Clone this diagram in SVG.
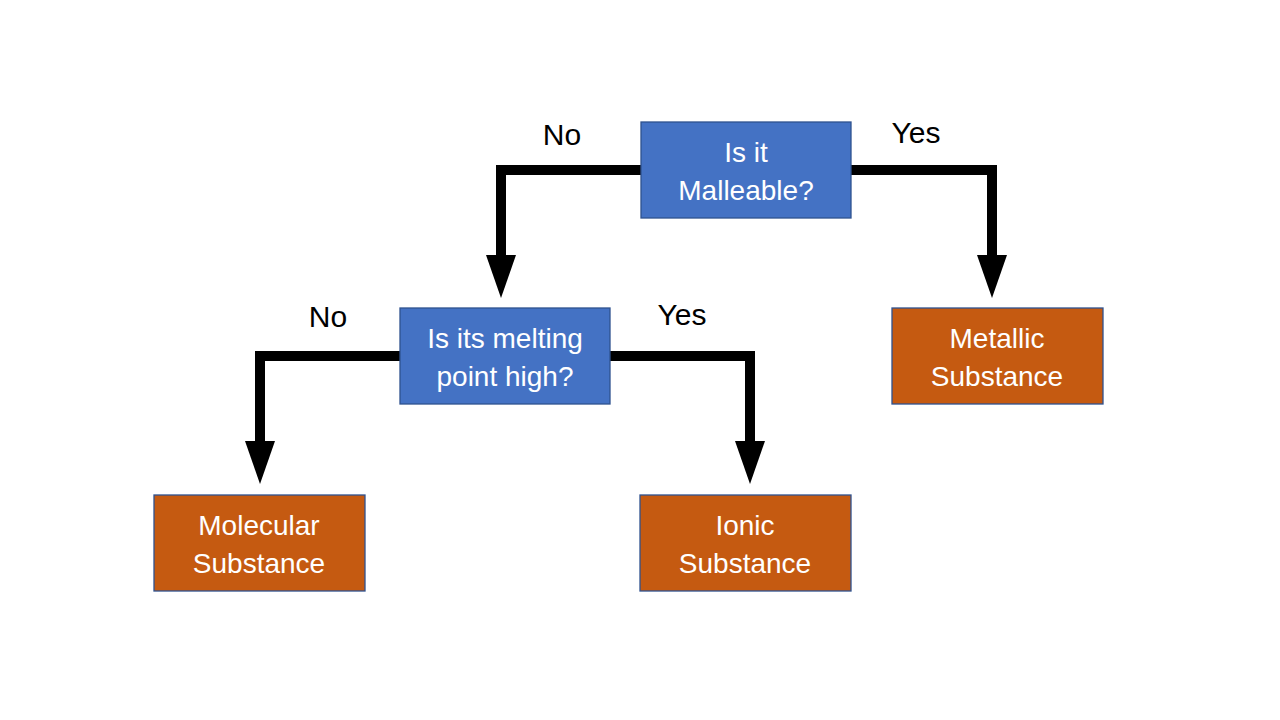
<svg xmlns="http://www.w3.org/2000/svg" width="1280" height="720" viewBox="0 0 1280 720">
<style>
.q{fill:#4472C4;stroke:#2F528F;stroke-width:1.3}
.r{fill:#C55A11;stroke:#2F528F;stroke-width:1.3}
.t{font-family:"Liberation Sans",Arial,sans-serif;font-size:28px;fill:#FFFFFF;text-anchor:middle}
.l{font-family:"Liberation Sans",Arial,sans-serif;font-size:30px;fill:#000000;text-anchor:middle}
.c{fill:none;stroke:#000000;stroke-width:10;stroke-linejoin:miter}
</style>
<defs>
<marker id="ah" markerUnits="userSpaceOnUse" viewBox="0 0 43 30" refX="1" refY="15" markerWidth="43" markerHeight="30" orient="auto">
<path d="M0,0 L43,15 L0,30 z" fill="#000000"/>
</marker>
</defs>
<rect width="1280" height="720" fill="#FFFFFF"/>
<g id="connectors">
<path class="c" d="M641,170 H501 V256" marker-end="url(#ah)"/>
<path class="c" d="M851,170 H992 V256" marker-end="url(#ah)"/>
<path class="c" d="M400,356 H260 V442" marker-end="url(#ah)"/>
<path class="c" d="M610,356 H750 V442" marker-end="url(#ah)"/>
<text class="l" x="562" y="145">No</text>
<text class="l" x="916" y="143">Yes</text>
<text class="l" x="328" y="327">No</text>
<text class="l" x="682" y="325">Yes</text>
</g>
<g id="malleable">
<rect class="q" x="641" y="122" width="210" height="96"/>
<text class="t" x="746" y="162">Is it</text>
<text class="t" x="746" y="200">Malleable?</text>
</g>
<g id="melting">
<rect class="q" x="400" y="308" width="210" height="96"/>
<text class="t" x="505" y="348">Is its melting</text>
<text class="t" x="505" y="386">point high?</text>
</g>
<g id="metallic">
<rect class="r" x="892" y="308" width="211" height="96"/>
<text class="t" x="997" y="348">Metallic</text>
<text class="t" x="997" y="386">Substance</text>
</g>
<g id="molecular">
<rect class="r" x="154" y="495" width="211" height="96"/>
<text class="t" x="259" y="535">Molecular</text>
<text class="t" x="259" y="573">Substance</text>
</g>
<g id="ionic">
<rect class="r" x="640" y="495" width="211" height="96"/>
<text class="t" x="745" y="535">Ionic</text>
<text class="t" x="745" y="573">Substance</text>
</g>
</svg>
